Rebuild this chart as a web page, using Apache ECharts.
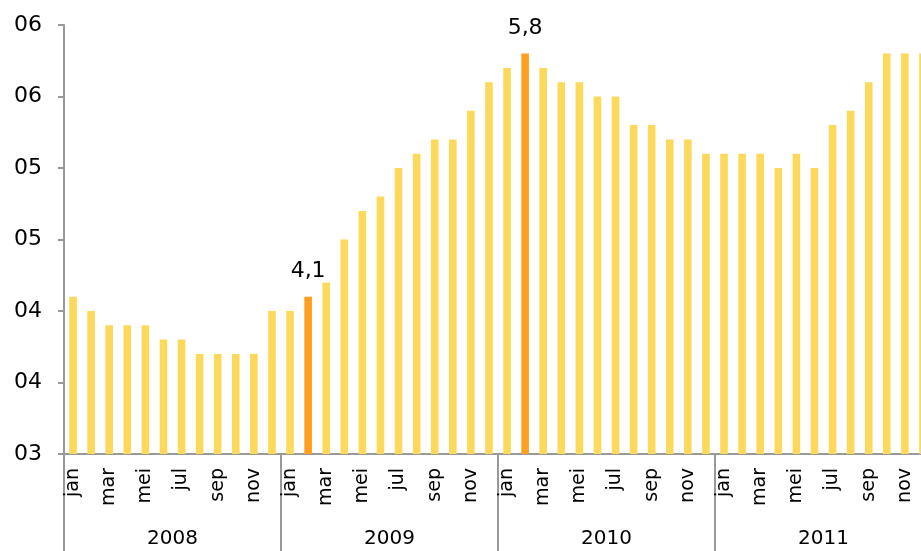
<!DOCTYPE html>
<html>
<head>
<meta charset="utf-8">
<script src="https://cdn.jsdelivr.net/npm/echarts@6/dist/echarts.min.js"></script>
<style>
  html, body { margin: 0; padding: 0; background: #fff; }
  #chart { width: 921px; height: 551px; }
</style>
</head>
<body>
<div id="chart"></div>
<script>
const months = ["jan", "feb", "mar", "apr", "mei", "jun", "jul", "aug", "sep", "okt", "nov", "dec"];
const years = ["2008", "2009", "2010", "2011"];
const values2008 = [4.1, 4.0, 3.9, 3.9, 3.9, 3.8, 3.8, 3.7, 3.7, 3.7, 3.7, 4.0];
const values2009 = [4.0, 4.1, 4.2, 4.5, 4.7, 4.8, 5.0, 5.1, 5.2, 5.2, 5.4, 5.6];
const values2010 = [5.7, 5.8, 5.7, 5.6, 5.6, 5.5, 5.5, 5.3, 5.3, 5.2, 5.2, 5.1];
const values2011 = [5.1, 5.1, 5.1, 5.0, 5.1, 5.0, 5.3, 5.4, 5.6, 5.8, 5.8, 5.8];
// indices of the highlighted bars (feb 2009, feb 2010)
const highlighted = [13, 25];

const colors = {
  bar: "#FCD95B",
  highlight: "#FF9E1F",
  axis: "#999999",
  text: "#000000",
};

const categories = [];
years.forEach((y) => months.forEach((m) => categories.push(m + " " + y)));
const allValues = [].concat(values2008, values2009, values2010, values2011);

const barData = allValues.map((v, i) => {
  if (highlighted.includes(i)) {
    return {
      value: v,
      itemStyle: { color: colors.highlight },
      label: {
        show: true,
        position: "top",
        distance: 14,
        color: colors.text,
        fontSize: 22,
        fontFamily: "DejaVu Sans",
        formatter: (p) => p.value.toFixed(1).replace(".", ","),
      },
    };
  }
  return v;
});

const chart = echarts.init(document.getElementById("chart"));

chart.setOption({
  animation: false,
  grid: { left: 64, top: 25, width: 868, bottom: 97, outerBoundsMode: "none" },
  xAxis: [
    {
      type: "category",
      data: categories,
      position: "bottom",
      axisLine: { lineStyle: { color: colors.axis, width: 2 } },
      axisTick: { show: false },
      axisLabel: {
        interval: 1,
        rotate: 90,
        margin: 14,
        color: colors.text,
        fontSize: 19,
        fontFamily: "DejaVu Sans",
        formatter: (v) => v.split(" ")[0],
      },
    },
    {
      type: "category",
      data: years,
      position: "bottom",
      axisLine: { show: false },
      axisTick: { show: true, length: 97, interval: 0, lineStyle: { color: colors.axis, width: 2 } },
      axisLabel: {
        interval: 0,
        margin: 75,
        color: colors.text,
        fontSize: 20,
        fontFamily: "DejaVu Sans",
      },
    },
  ],
  yAxis: {
    type: "value",
    min: 3,
    max: 6,
    interval: 0.5,
    splitLine: { show: false },
    axisLine: { show: true, lineStyle: { color: colors.axis, width: 2 } },
    axisTick: { show: true, length: 6, lineStyle: { color: colors.axis, width: 2 } },
    axisLabel: {
      margin: 22,
      color: colors.text,
      fontSize: 22,
      fontFamily: "DejaVu Sans",
      formatter: (v) => String(Math.round(v)).padStart(2, "0"),
    },
  },
  series: [
    {
      type: "bar",
      data: barData,
      barWidth: "42%",
      itemStyle: { color: colors.bar },
    },
  ],
});
</script>
</body>
</html>
